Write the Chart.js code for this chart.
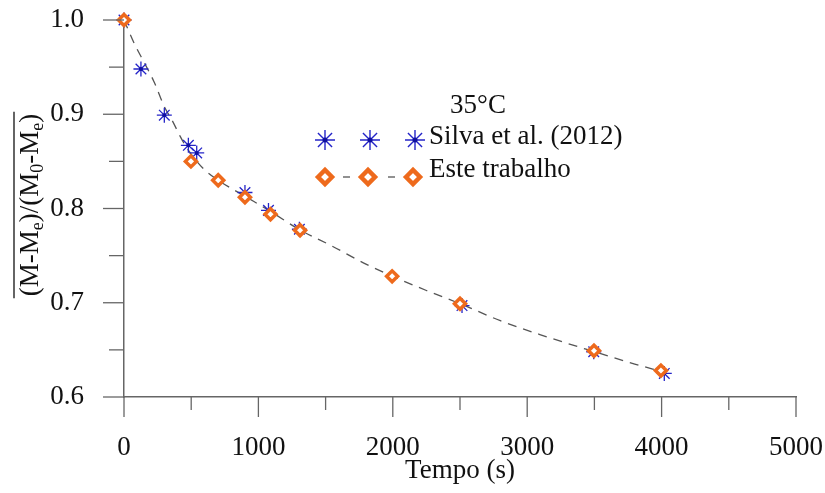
<!DOCTYPE html>
<html>
<head>
<meta charset="utf-8">
<script src="https://cdn.jsdelivr.net/npm/chart.js@4.4.1/dist/chart.umd.min.js"></script>
<style>
  html, body { margin: 0; background: #fff; }
</style>
</head>
<body>
<canvas id="chart" width="825" height="493"></canvas>
<script>
// Silva et al. (2012), 35°C
const silvaTime = [0, 126, 300, 479, 541, 900, 1075, 1305, 2515, 3495, 4020];
const silvaRatio = [1.0, 0.948, 0.899, 0.867, 0.859, 0.817, 0.798, 0.778, 0.697, 0.648, 0.625];

// Este trabalho
const esteTime = [0, 498, 701, 900, 1090, 1310, 1995, 2500, 3497, 3995];
const esteRatio = [1.0, 0.850, 0.830, 0.812, 0.794, 0.777, 0.728, 0.699, 0.649, 0.628];

// dashed curve
const curveTime = [0, 80, 150, 225, 300, 360, 420, 460, 530, 600, 700, 900, 1100, 1300, 1550, 1800, 2000, 2250, 2500, 2800, 3100, 3500, 3800, 4000];
const curveRatio = [1.0, 0.974, 0.955, 0.934, 0.908, 0.893, 0.876, 0.866, 0.852, 0.841, 0.830, 0.813, 0.796, 0.778, 0.760, 0.741, 0.728, 0.713, 0.699, 0.681, 0.666, 0.648, 0.635, 0.627];

const xTicks = [0, 1000, 2000, 3000, 4000, 5000];
const yTicks = [0.6, 0.7, 0.8, 0.9, 1.0];

const SERIF = '"Liberation Serif", "Times New Roman", serif';
const BLUE = '#2424c8';
const ORANGE = '#ee6a1c';
const AXIS = '#666';

function toPoints(xs, ys) {
  return xs.map((x, i) => ({ x: x, y: ys[i] }));
}

function noPad(s) {
  s.paddingTop = 0;
  s.paddingBottom = 0;
  s.paddingLeft = 0;
  s.paddingRight = 0;
}

// minor/major ticks, star centres, y title, legend
const extras = {
  id: 'extras',
  afterDatasetDraw(chart, args) {
    if (args.index !== 1) return;
    const ctx = chart.ctx;
    ctx.save();
    ctx.fillStyle = '#1010a0';
    args.meta.data.forEach(pt => {
      ctx.beginPath();
      ctx.arc(pt.x, pt.y, 2, 0, Math.PI * 2);
      ctx.fill();
    });
    ctx.restore();
  },
  afterDraw(chart) {
    const ctx = chart.ctx;
    const xs = chart.scales.x, ys = chart.scales.y;
    const area = chart.chartArea;

    ctx.save();
    ctx.strokeStyle = AXIS;
    ctx.lineWidth = 1.3;
    for (let v = 0; v <= 5000; v += 500) {
      const px = xs.getPixelForValue(v);
      const len = v % 1000 === 0 ? 20 : 13;
      ctx.beginPath();
      ctx.moveTo(px, area.bottom);
      ctx.lineTo(px, area.bottom + len);
      ctx.stroke();
    }
    for (let i = 0; i <= 8; i++) {
      const v = 0.6 + i * 0.05;
      const py = ys.getPixelForValue(v);
      const len = i % 2 === 0 ? 21 : 15;
      ctx.beginPath();
      ctx.moveTo(area.left, py);
      ctx.lineTo(area.left - len, py);
      ctx.stroke();
    }
    ctx.restore();

    // y title: overline over (M-Me)/(M0-Me)
    ctx.save();
    ctx.translate(38, 205);
    ctx.rotate(-Math.PI / 2);
    const parts = [['(M-M', 0], ['e', 1], [')/(M', 0], ['0', 1], ['-M', 0], ['e', 1], [')', 0]];
    const big = '27px ' + SERIF, small = '18px ' + SERIF;
    let total = 0;
    parts.forEach(p => { ctx.font = p[1] ? small : big; total += ctx.measureText(p[0]).width; });
    let cx = -total / 2;
    ctx.fillStyle = '#111';
    ctx.textBaseline = 'alphabetic';
    parts.forEach(p => {
      ctx.font = p[1] ? small : big;
      ctx.fillText(p[0], cx, p[1] ? 5 : 0);
      cx += ctx.measureText(p[0]).width;
    });
    ctx.strokeStyle = '#111';
    ctx.lineWidth = 1.3;
    ctx.beginPath();
    ctx.moveTo(-total / 2 - 2, -24);
    ctx.lineTo(total / 2 + 2, -24);
    ctx.stroke();
    ctx.restore();

    // legend
    ctx.save();
    ctx.fillStyle = '#111';
    ctx.font = '27px ' + SERIF;
    ctx.textAlign = 'center';
    ctx.textBaseline = 'alphabetic';
    ctx.fillText('35°C', 478, 113);
    ctx.textAlign = 'left';
    ctx.fillText('Silva et al. (2012)', 429, 144);
    ctx.fillText('Este trabalho', 429, 177);

    [325, 370, 415].forEach(x => {
      ctx.strokeStyle = BLUE;
      ctx.lineWidth = 1.4;
      Chart.helpers.drawPoint(ctx, { pointStyle: 'star', radius: 10, borderWidth: 1.4, rotation: 0 }, x, 140);
      ctx.fillStyle = '#1010a0';
      ctx.beginPath();
      ctx.arc(x, 140, 2.5, 0, Math.PI * 2);
      ctx.fill();
    });

    ctx.strokeStyle = '#555';
    ctx.lineWidth = 1.3;
    [[343, 350], [388, 395]].forEach(d => {
      ctx.beginPath();
      ctx.moveTo(d[0], 177);
      ctx.lineTo(d[1], 177);
      ctx.stroke();
    });
    [325, 368, 413].forEach(x => {
      ctx.strokeStyle = ORANGE;
      ctx.fillStyle = '#fff';
      ctx.lineWidth = 4.5;
      Chart.helpers.drawPoint(ctx, { pointStyle: 'rectRot', radius: 7, borderWidth: 4.5, rotation: 0 }, x, 177);
    });
    ctx.restore();
  }
};

new Chart(document.getElementById('chart'), {
  type: 'line',
  data: {
    datasets: [
      {
        label: 'Este trabalho',
        data: toPoints(esteTime, esteRatio),
        showLine: false,
        pointStyle: 'rectRot',
        pointRadius: 5.5,
        pointBorderColor: ORANGE,
        pointBackgroundColor: '#fff',
        pointBorderWidth: 3.5
      },
      {
        label: 'Silva et al. (2012)',
        data: toPoints(silvaTime, silvaRatio),
        showLine: false,
        pointStyle: 'star',
        pointRadius: 7.5,
        pointBorderColor: BLUE,
        pointBackgroundColor: BLUE,
        pointBorderWidth: 1.3
      },
      {
        label: 'ajuste',
        data: toPoints(curveTime, curveRatio),
        borderColor: '#555',
        borderWidth: 1.3,
        borderDash: [9, 7],
        cubicInterpolationMode: 'monotone',
        pointRadius: 0
      }
    ]
  },
  options: {
    responsive: false,
    animation: false,
    clip: false,
    layout: { autoPadding: false, padding: { left: 0, top: 20, right: 29, bottom: 0 } },
    plugins: { legend: { display: false }, tooltip: { enabled: false } },
    scales: {
      x: {
        type: 'linear',
        min: 0,
        max: 5000,
        afterFit: s => { s.height = 96; noPad(s); },
        afterBuildTicks: s => { s.ticks = xTicks.map(v => ({ value: v })); },
        ticks: { color: '#111', font: { family: SERIF, size: 27 }, padding: 27, maxRotation: 0, callback: v => String(v) },
        grid: { display: false },
        border: { color: AXIS, width: 1.5 },
        title: { display: true, text: 'Tempo (s)', color: '#111', font: { family: SERIF, size: 27 }, padding: { top: 0, bottom: 6 } }
      },
      y: {
        min: 0.6,
        max: 1.0,
        afterFit: s => { s.width = 124; noPad(s); },
        afterBuildTicks: s => { s.ticks = yTicks.map(v => ({ value: v })); },
        ticks: { color: '#111', font: { family: SERIF, size: 27 }, padding: 32, callback: v => v.toFixed(1) },
        grid: { display: false },
        border: { color: AXIS, width: 1.5 }
      }
    }
  },
  plugins: [extras]
});
</script>
</body>
</html>
